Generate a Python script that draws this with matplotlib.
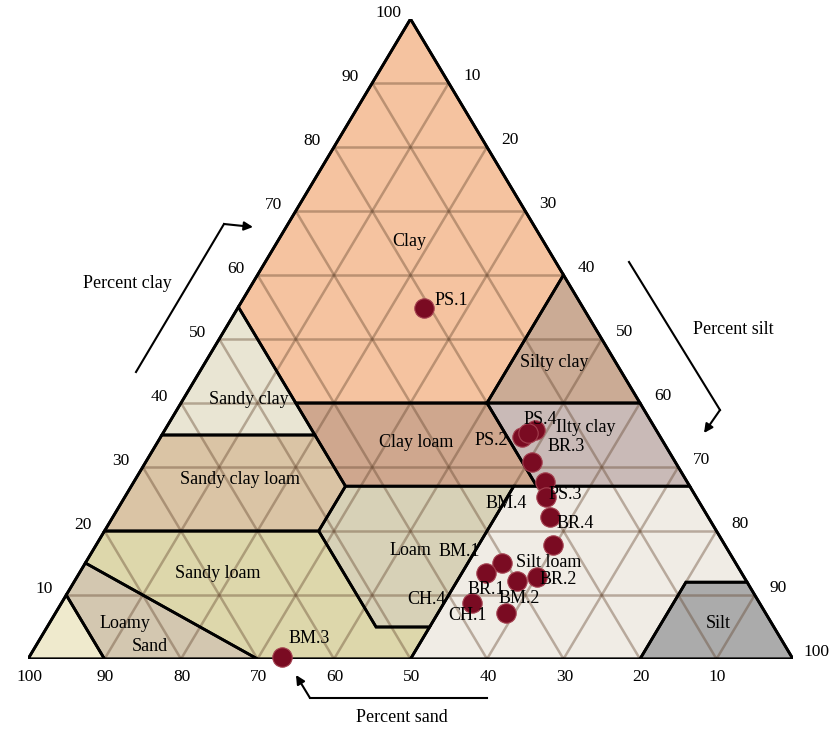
import matplotlib.pyplot as plt
from matplotlib.patches import Polygon

plt.rcParams['font.family'] = ['Liberation Serif', 'DejaVu Serif']

# soil samples: percent sand, silt, clay
samples = ['PS.1', 'PS.2', 'PS.4', 'CH.2', 'BR.3', 'BM.4', 'PS.3', 'BR.4',
           'CH.3', 'BM.1', 'BR.1', 'BM.2', 'BR.2', 'CH.4', 'CH.1', 'BM.3']
sand = [20.8, 18.1, 15.8, 17.0, 18.7, 18.6, 19.6, 20.7,
        22.5, 30.5, 33.4, 30.0, 27.1, 37.6, 33.9, 66.7]
silt = [24.4, 47.2, 48.4, 47.7, 50.5, 53.7, 55.1, 57.1,
        59.7, 54.5, 53.2, 57.8, 60.1, 53.7, 58.9, 33.0]
clay = [54.8, 34.7, 35.8, 35.3, 30.8, 27.7, 25.3, 22.2,
        17.8, 15.0, 13.4, 12.2, 12.8, 8.7, 7.2, 0.3]

# where each sample name sits relative to its dot (pixels, alignment)
label_pos = {
    'PS.1': (10, 8, 'left'), 'PS.2': (-14, -4, 'right'),
    'PS.4': (-12, 10, 'left'), 'BR.3': (15, 15, 'left'),
    'BM.4': (-18, -22, 'right'), 'PS.3': (2, 3, 'left'),
    'BR.4': (7, -7, 'left'), 'BM.1': (-22, 11, 'right'),
    'BR.1': (-19, -16, 'left'), 'BM.2': (-18, -18, 'left'),
    'BR.2': (3, -2, 'left'), 'CH.4': (-26, 4, 'right'),
    'CH.1': (-19, -3, 'right'), 'BM.3': (7, 19, 'left'),
}

# texture classes as (sand, silt, clay) corners
classes = ['Clay', 'Silty clay', 'Sandy clay', 'Clay loam', 'Silty clay loam',
           'Sandy clay loam', 'Loam', 'Silt loam', 'Sandy loam', 'Loamy sand',
           'Sand', 'Silt']
corners = [
    [(0, 0, 100), (0, 40, 60), (20, 40, 40), (45, 15, 40), (45, 0, 55)],
    [(0, 40, 60), (0, 60, 40), (20, 40, 40)],
    [(45, 0, 55), (45, 15, 40), (45, 20, 35), (65, 0, 35)],
    [(45, 15, 40), (20, 40, 40), (20, 53, 27), (45, 28, 27)],
    [(20, 40, 40), (0, 60, 40), (0, 73, 27), (20, 53, 27)],
    [(65, 0, 35), (45, 20, 35), (45, 28, 27), (52, 28, 20), (80, 0, 20)],
    [(45, 28, 27), (23, 50, 27), (45, 50, 5), (52, 43, 5), (52, 28, 20)],
    [(50, 50, 0), (23, 50, 27), (0, 73, 27), (0, 88, 12), (8, 80, 12), (20, 80, 0)],
    [(80, 0, 20), (52, 28, 20), (52, 43, 5), (45, 50, 5), (50, 50, 0),
     (70, 30, 0), (85, 0, 15)],
    [(85, 0, 15), (70, 30, 0), (90, 10, 0), (90, 0, 10)],
    [(100, 0, 0), (90, 10, 0), (90, 0, 10)],
    [(20, 80, 0), (8, 80, 12), (0, 88, 12), (0, 100, 0)],
]
class_colors = ['#f5c3a0', '#cbab95', '#e9e5d3', '#cfa78e', '#c9bab7',
                '#dac4a5', '#d7d1b7', '#f0ece5', '#ddd7ab', '#d3c7b0',
                '#efeacd', '#ababab']

# class names written on the diagram, as (silt, clay)
class_text = ['Clay', 'Silty clay', 'Sandy clay', 'Clay loam', 'Ilty clay',
              'Sandy clay loam', 'Loam', 'Silt loam', 'Sandy loam',
              'Loamy', 'Sand', 'Silt']
class_text_at = [(17.3, 65.2), (45.6, 46.3), (8.6, 40.6), (33.8, 33.9),
                 (54.8, 36.2), (13.7, 28.1), (41.6, 16.9), (60.5, 15.1),
                 (18.1, 13.4), (9.9, 5.6), (14.9, 2.0), (87.4, 5.6)]

ticks = [10, 20, 30, 40, 50, 60, 70, 80, 90, 100]


def tern(sa, si, cl):
    # cartesian position inside the triangle, 0..100 on both axes
    return si + cl / 2.0, cl


fig = plt.figure(figsize=(8.31, 7.29), dpi=100)
ax = fig.add_axes([28 / 831, 70 / 729, 765 / 831, 640 / 729])
ax.set_xlim(0, 100)
ax.set_ylim(0, 100)
ax.axis('off')

for verts, col in zip(corners, class_colors):
    pts = [tern(*v) for v in verts]
    ax.add_patch(Polygon(pts, closed=True, facecolor=col, edgecolor='none', zorder=1))

# grid lines in the three directions
grid_kw = dict(color='#64462f', alpha=0.4, lw=1.8, zorder=2, solid_capstyle='butt')
for v in range(10, 100, 10):
    a = tern(100 - v, 0, v); b = tern(0, 100 - v, v)
    ax.plot([a[0], b[0]], [a[1], b[1]], **grid_kw)
    a = tern(v, 100 - v, 0); b = tern(v, 0, 100 - v)
    ax.plot([a[0], b[0]], [a[1], b[1]], **grid_kw)
    a = tern(100 - v, v, 0); b = tern(0, v, 100 - v)
    ax.plot([a[0], b[0]], [a[1], b[1]], **grid_kw)

for verts in corners:
    pts = [tern(*v) for v in verts]
    ax.add_patch(Polygon(pts, closed=True, facecolor='none', edgecolor='black',
                         lw=2.0, zorder=3, joinstyle='miter'))

outline = [tern(100, 0, 0), tern(0, 100, 0), tern(0, 0, 100), tern(100, 0, 0)]
ax.plot([p[0] for p in outline], [p[1] for p in outline], color='black', lw=2.0,
        zorder=4, solid_joinstyle='miter')

for txt, (si, cl) in zip(class_text, class_text_at):
    x, y = tern(100 - si - cl, si, cl)
    ax.text(x, y, txt, fontsize=13, ha='center', va='center', zorder=6)

# axis numbers
for v in ticks:
    ax.annotate(str(v), tern(100 - v, 0, v), xytext=(-22, 6), textcoords='offset pixels',
                ha='center', va='center', fontsize=12.5, annotation_clip=False)
    ax.annotate(str(v), tern(0, v, 100 - v), xytext=(23, 7), textcoords='offset pixels',
                ha='center', va='center', fontsize=12.5, annotation_clip=False)
    ax.annotate(str(v), tern(v, 100 - v, 0), xytext=(1, -18), textcoords='offset pixels',
                ha='center', va='center', fontsize=12.5, annotation_clip=False)

# samples
xs, ys = zip(*[tern(a, b, c) for a, b, c in zip(sand, silt, clay)])
ax.scatter(xs, ys, s=195, color='#7a0b22', edgecolors='#a3404f', linewidths=0.8,
           zorder=5, clip_on=False)
for name, x, y in zip(samples, xs, ys):
    if name not in label_pos:
        continue
    dx, dy, ha = label_pos[name]
    ax.annotate(name, (x, y), xytext=(dx, dy), textcoords='offset pixels',
                ha=ha, va='center', fontsize=13, zorder=7, annotation_clip=False)

# axis titles with their direction arrows (figure pixels)
H = 729
fig.text(127 / 831, 1 - 284 / H, 'Percent clay', fontsize=13, ha='center', va='center')
fig.text(733 / 831, 1 - 329 / H, 'Percent silt', fontsize=13, ha='center', va='center')
fig.text(402 / 831, 1 - 718 / H, 'Percent sand', fontsize=13, ha='center', va='center')

arrow_kw = dict(arrowstyle='-|>', color='black', lw=1.5, mutation_scale=13,
                shrinkA=0, shrinkB=0)
for path in ([(136, 372), (224, 224), (253, 227)],
             [(629, 262), (720, 410), (704, 433)],
             [(487, 698), (310, 698), (296, 675)]):
    (x0, y0), (x1, y1), (x2, y2) = path
    fig.add_artist(plt.Line2D([x0 / 831, x1 / 831], [1 - y0 / H, 1 - y1 / H],
                              color='black', lw=1.5, transform=fig.transFigure))
    ax.annotate('', xy=(x2, H - y2), xytext=(x1, H - y1), xycoords='figure pixels',
                textcoords='figure pixels', arrowprops=arrow_kw)

fig.savefig('out.png', dpi=100)
